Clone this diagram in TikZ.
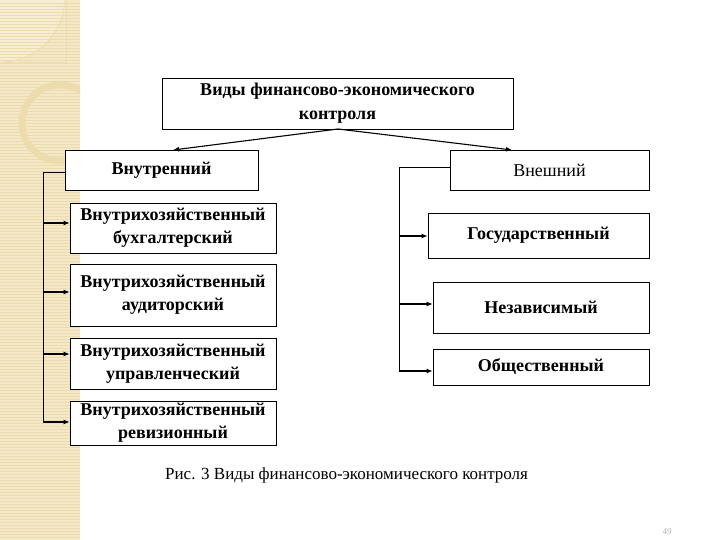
\documentclass[tikz,border=0pt]{standalone}
\usepackage{fontspec}
\setmainfont{Liberation Serif}
\usetikzlibrary{arrows.meta}
\definecolor{strip}{HTML}{F4E8C6}
\definecolor{stripline}{HTML}{EADBB0}
\definecolor{deco}{HTML}{EDDDAE}
\definecolor{decoin}{HTML}{F7EDD2}
\tikzset{
  box/.style={draw=black, line width=0.8pt, fill=white, align=center, inner sep=0pt, font=\fontsize{18}{23}\selectfont\bfseries},
  conn/.style={line width=1.1pt, -{Latex[length=6pt,width=5pt]}},
  plain/.style={line width=1pt}
}
\begin{document}
\begin{tikzpicture}[x=1pt,y=-1pt]
\useasboundingbox (0,0) rectangle (720,540);
\fill[white] (0,0) rectangle (720,540);
% decorative left strip
\fill[strip] (0,0) rectangle (80,540);
\begin{scope}
\clip (0,0) rectangle (80,540);
\fill[decoin] (0,0) -- (65,0) .. controls (62,35) and (40,58) .. (5,62) -- (0,62) -- cycle;
\end{scope}
\foreach \i in {1,...,179} { \draw[stripline, line width=0.5pt] (0,3*\i) -- (80,3*\i); }
\begin{scope}
\clip (0,0) rectangle (80,540);
\draw[deco, line width=0.8pt] (0,62) -- (66,62) -- (66,0);
\draw[deco, line width=0.8pt] (65,0) .. controls (62,35) and (40,58) .. (5,62);
\draw[deco, line width=7pt] (60,123) circle (38);
\end{scope}
% nodes
\node[box, minimum width=351, minimum height=51, font=\fontsize{18}{24}\selectfont\bfseries] (top) at (337.5,103.5) {Виды финансово-экономического\\контроля};
\node[box, minimum width=193, minimum height=40] (inn) at (161.5,170) {Внутренний};
\node[box, minimum width=199, minimum height=40, font=\fontsize{18}{23}\selectfont] (ext) at (549.5,170) {Внешний};
\node[box, minimum width=206, minimum height=50] (i1) at (173,228) {Внутрихозяйственный\\бухгалтерский};
\node[box, minimum width=206, minimum height=62] (i2) at (173,295) {Внутрихозяйственный\\аудиторский};
\node[box, minimum width=206, minimum height=51] (i3) at (173,363.5) {Внутрихозяйственный\\управленческий};
\node[box, minimum width=206, minimum height=44] (i4) at (173,423) {Внутрихозяйственный\\ревизионный};
\node[box, minimum width=221, minimum height=45] (e1) at (538.5,235.5) {Государственный};
\node[box, minimum width=216, minimum height=51] (e2) at (541,307.5) {Независимый};
\node[box, minimum width=216, minimum height=36] (e3) at (541,367) {Общественный};
% top arrows
\coordinate (tb) at (338,129);
\draw[conn] (tb) -- (173,150);
\draw[conn] (tb) -- (512,150);
% left bracket
\coordinate (lt) at (43,173);
\draw[plain] (inn.west |- lt) -- (lt) -- (43,422);
\draw[conn] (43,223) -- (i1.west |- 0,223);
\draw[conn] (43,292) -- (i2.west |- 0,292);
\draw[conn] (43,354) -- (i3.west |- 0,354);
\draw[conn] (43,422) -- (i4.west |- 0,422);
% right bracket
\coordinate (rt) at (399,168);
\draw[plain] (ext.west |- rt) -- (rt) -- (399,371);
\draw[conn] (399,236) -- (e1.west |- 0,236);
\draw[conn] (399,304) -- (e2.west |- 0,304);
\draw[conn] (399,371) -- (e3.west |- 0,371);
% caption
\node[anchor=west, font=\fontsize{17}{19}\selectfont, inner sep=0pt] (cap) at (165,475) {Рис. 3 Виды финансово-экономического контроля};
\node[font=\fontsize{9}{10}\selectfont, text=gray!60, inner sep=0pt] (pg) at (667,532) {49};
\end{tikzpicture}
\end{document}
